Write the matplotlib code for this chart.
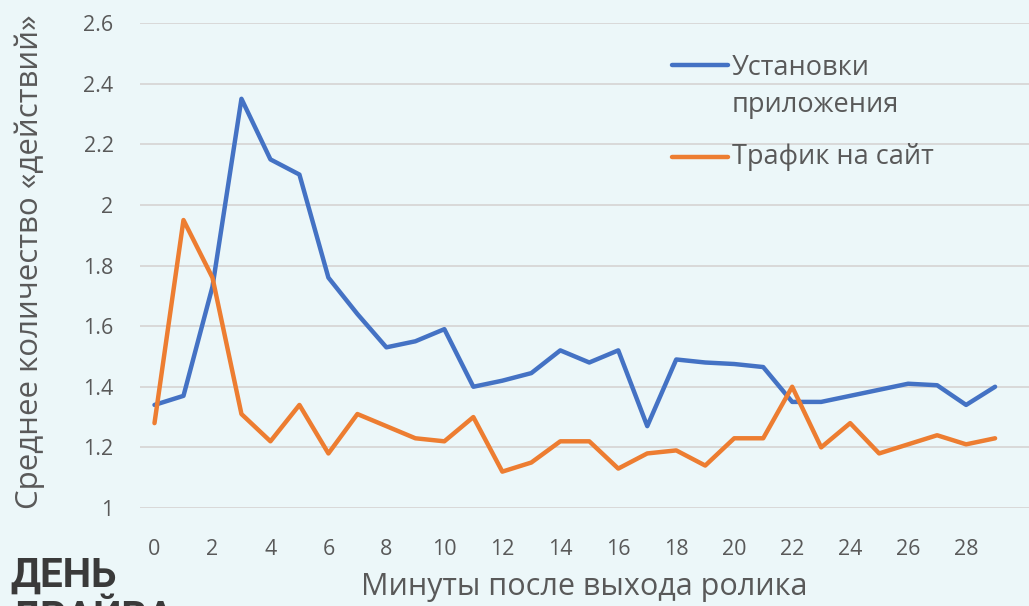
import matplotlib.pyplot as plt
from matplotlib.lines import Line2D

minutes = list(range(30))
installs = [1.34, 1.37, 1.73, 2.35, 2.15, 2.10, 1.76, 1.64, 1.53, 1.55,
            1.59, 1.40, 1.42, 1.445, 1.52, 1.48, 1.52, 1.27, 1.49, 1.48,
            1.475, 1.465, 1.35, 1.35, 1.37, 1.39, 1.41, 1.405, 1.34, 1.40]
traffic = [1.28, 1.95, 1.76, 1.31, 1.22, 1.34, 1.18, 1.31, 1.27, 1.23,
           1.22, 1.30, 1.12, 1.15, 1.22, 1.22, 1.13, 1.18, 1.19, 1.14,
           1.23, 1.23, 1.40, 1.20, 1.28, 1.18, 1.21, 1.24, 1.21, 1.23]
series_names = ["Установки\nприложения", "Трафик на сайт"]
yticks = [1, 1.2, 1.4, 1.6, 1.8, 2, 2.2, 2.4, 2.6]
ytick_labels = ["1", "1.2", "1.4", "1.6", "1.8", "2", "2.2", "2.4", "2.6"]
xticks = list(range(0, 29, 2))

bg = "#ECF7F9"
text_col = "#595959"
colors = ["#4472C4", "#ED7D31"]

plt.rcParams['font.family'] = ['Open Sans', 'DejaVu Sans']

fig = plt.figure(figsize=(10.29, 6.06), dpi=100, facecolor=bg)
ax = fig.add_axes([140 / 1029, 98 / 606, 889 / 1029, 485 / 606])
ax.set_facecolor(bg)

ax.plot(minutes, installs, color=colors[0], lw=3.2, solid_joinstyle='round',
        solid_capstyle='round', zorder=3)
ax.plot(minutes, traffic, color=colors[1], lw=3.2, solid_joinstyle='round',
        solid_capstyle='round', zorder=3)

ax.set_xlim(-0.5, 30.17)
ax.set_ylim(1, 2.6)
ax.set_yticks(yticks)
ax.set_yticklabels(ytick_labels)
ax.set_xticks(xticks)
ax.tick_params(length=0, labelsize=15.5, colors=text_col)
ax.tick_params(axis='y', pad=19)
ax.tick_params(axis='x', pad=22)
ax.yaxis.grid(True, color="#D9D9D9", lw=1.4)
ax.set_axisbelow(True)
for s in ax.spines.values():
    s.set_visible(False)

ax.set_xlabel("Минуты после выхода ролика", fontsize=22, color=text_col, labelpad=9)
fig.text(30 / 1029, (606 - 262) / 606, "Среднее количество «действий»",
         rotation=90, fontsize=22.5, color=text_col, ha='center', va='center')

# legend
leg_y = [541 / 606, 449 / 606]
for c, name, y in zip(colors, series_names, leg_y):
    fig.add_artist(Line2D([672 / 1029, 728 / 1029], [y, y], color=c, lw=3.2,
                          solid_capstyle='round'))
    fig.text(732 / 1029, y, name, fontsize=19.5, color=text_col,
             va='top' if '\n' in name else 'center', linespacing=1.45)

fig.texts[-2].set_y(541 / 606 + 11 / 606)

# logo
fig.text(10 / 1029, 30 / 606, "ДЕНЬ", fontsize=29, fontweight='bold', color="#3A3A3A",
         family='Roboto', va='center')
fig.text(10 / 1029, -10 / 606, "ДРАЙВА", fontsize=29, fontweight='bold', color="#3A3A3A",
         family='Roboto', va='center')

fig.savefig("out.png", dpi=100, facecolor=bg)
